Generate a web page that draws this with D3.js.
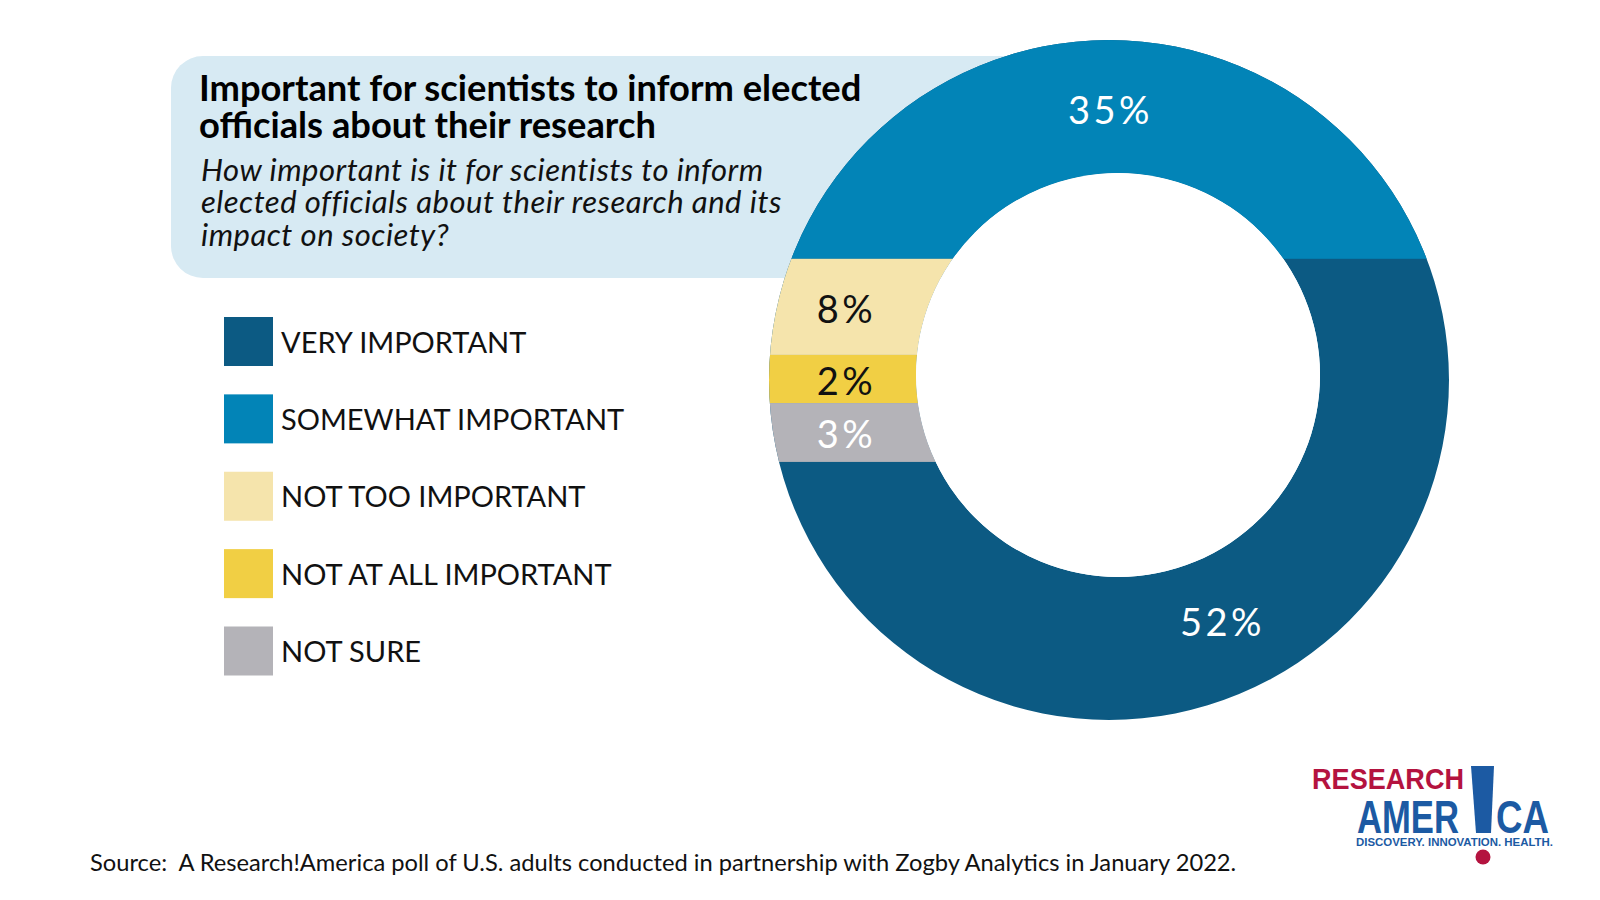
<!DOCTYPE html>
<html><head><meta charset="utf-8">
<script src="https://cdn.jsdelivr.net/npm/d3@7"></script>
<style>
body{margin:0;background:#fff}
svg{display:block}
</style>
</head><body>
<svg id="chart" width="1600" height="900"></svg>
<script>
// ---------- data ----------
const categories = ["VERY IMPORTANT", "SOMEWHAT IMPORTANT", "NOT TOO IMPORTANT", "NOT AT ALL IMPORTANT", "NOT SURE"];
const values = [52, 35, 8, 2, 3];
const colors = ["#0C5A83", "#0284B7", "#F5E4AC", "#F1CF44", "#B4B3B8"];
const labelColors = ["#ffffff", "#ffffff", "#111111", "#111111", "#ffffff"];
// clockwise order of the ring, starting with the top segment
const ringOrder = [1, 0, 4, 3, 2];
// left-hand stacked bands, top to bottom
const leftBands = [2, 3, 4];
const titleLines = ["Important for scientists to inform elected", "officials about their research"];
const subtitleLines = ["How important is it for scientists to inform", "elected officials about their research and its", "impact on society?"];
const sourceText = "Source:  A Research!America poll of U.S. adults conducted in partnership with Zogby Analytics in January 2022.";

// ---------- layout ----------
const svg = d3.select("#chart");
const outer = {cx: 1109, cy: 380, r: 340};
const inner = {cx: 1118, cy: 375, r: 202};
const rMid = (outer.r + inner.r) / 2;
const rLab = rMid - 4;
const mid = {cx: (outer.cx + inner.cx) / 2, cy: (outer.cy + inner.cy) / 2};

const items = categories.map((c, i) => ({i, cat: c, value: values[i], color: colors[i], lc: labelColors[i]}));

// panel behind the title
svg.append("rect")
  .attr("x", 171).attr("y", 56).attr("width", 940).attr("height", 222)
  .attr("rx", 32).attr("fill", "#D7EAF3");

const title = svg.append("text")
  .attr("font-family", "Lato").attr("font-weight", 700).attr("font-size", 36.3)
  .attr("fill", "#000");
title.selectAll("tspan").data(titleLines).join("tspan")
  .attr("x", 199).attr("y", (d, i) => 101 + i * 37).text(d => d);

const sub = svg.append("text")
  .attr("font-family", "Lato").attr("font-style", "italic").attr("font-size", 31)
  .attr("letter-spacing", 0.5).attr("fill", "#111");
sub.selectAll("tspan").data(subtitleLines).join("tspan")
  .attr("x", 201).attr("y", (d, i) => 180.5 + i * 32.5).text(d => d);

// ---------- ring ----------
const ringPath = d3.path();
ringPath.moveTo(outer.cx + outer.r, outer.cy);
ringPath.arc(outer.cx, outer.cy, outer.r, 0, 2 * Math.PI);
ringPath.closePath();
ringPath.moveTo(inner.cx + inner.r, inner.cy);
ringPath.arc(inner.cx, inner.cy, inner.r, 0, 2 * Math.PI);
ringPath.closePath();

const defs = svg.append("defs");
defs.append("clipPath").attr("id", "ringClip")
  .append("path").attr("d", ringPath.toString()).attr("clip-rule", "evenodd");

const pie = d3.pie().sort(null).value(d => d.value);
const topVal = items[ringOrder[0]].value;
pie.startAngle(-Math.PI * topVal / 100).endAngle(2 * Math.PI - Math.PI * topVal / 100);
const arcs = pie(ringOrder.map(k => items[k]));
const arcGen = d3.arc().innerRadius(rLab).outerRadius(rLab);

// horizontal cut under the top segment
const topCut = outer.cy - rLab * Math.cos(arcs[0].endAngle);
const h = d3.scaleSqrt().domain([0, 100]).range([0, outer.r]);
let acc = topCut;
const bands = leftBands.map(k => {
  const b = {item: items[k], y0: acc, y1: acc + h(items[k].value)};
  acc = b.y1;
  return b;
});

const ring = svg.append("g").attr("clip-path", "url(#ringClip)");
const x0 = outer.cx - outer.r - 2, x1 = outer.cx + outer.r + 2;
// base: the large remaining segment
ring.append("rect").attr("x", x0).attr("y", outer.cy - outer.r - 2)
  .attr("width", x1 - x0).attr("height", 2 * outer.r + 4)
  .attr("fill", items[ringOrder[1]].color);
// top segment
ring.append("rect").attr("x", x0).attr("y", outer.cy - outer.r - 2)
  .attr("width", x1 - x0).attr("height", topCut - (outer.cy - outer.r - 2))
  .attr("fill", items[ringOrder[0]].color);
// left bands
ring.selectAll("rect.band").data(bands).join("rect").attr("class", "band")
  .attr("x", x0).attr("y", d => d.y0)
  .attr("width", inner.cx - x0).attr("height", d => d.y1 - d.y0)
  .attr("fill", d => d.item.color);

// white hole
svg.append("circle").attr("cx", inner.cx).attr("cy", inner.cy).attr("r", inner.r).attr("fill", "#fff");

// ---------- labels ----------
const fmt = v => v + "%";
const lblFont = 38, capHalf = 0.72 * lblFont / 2;
const labels = svg.append("g").attr("font-family", "Lato").attr("font-size", lblFont)
  .attr("letter-spacing", 3.5).attr("text-anchor", "middle");
[arcs[0], arcs[1]].forEach(a => {
  const [dx, dy] = arcGen.centroid(a);
  labels.append("text")
    .attr("x", mid.cx + dx + (dx > 10 ? 3 : -3)).attr("y", mid.cy + dy + capHalf)
    .attr("fill", a.data.lc).text(fmt(a.data.value));
});
const leftX = ((outer.cx - outer.r) + (inner.cx - inner.r)) / 2 + 4;
labels.selectAll("text.band").data(bands).join("text").attr("class", "band")
  .attr("x", leftX).attr("y", d => (d.y0 + d.y1) / 2 + 2 + capHalf)
  .attr("fill", d => d.item.lc).text(d => fmt(d.item.value));

// ---------- legend ----------
const ly = d3.scalePoint().domain(categories).range([341.5, 651]);
const legend = svg.append("g").selectAll("g").data(items).join("g")
  .attr("transform", d => `translate(224,${ly(d.cat)})`);
legend.append("rect").attr("x", 0).attr("y", -24.5).attr("width", 49).attr("height", 49)
  .attr("fill", d => d.color);
legend.append("text").attr("x", 57).attr("y", 11)
  .attr("font-family", "Lato").attr("font-size", 29).attr("fill", "#111")
  .text(d => d.cat);

// ---------- source ----------
svg.append("text").attr("x", 90).attr("y", 871)
  .attr("font-family", "Lato").attr("font-size", 23.7).attr("fill", "#111")
  .style("white-space", "pre")
  .text(sourceText);

// ---------- logo ----------
const red = "#B4133F", blue = "#1C5AA3";
const logoText = svg.append("text")
  .attr("font-family", "Liberation Sans").attr("font-weight", 700);
logoText.append("tspan").attr("x", 1312).attr("y", 789).attr("font-size", 30)
  .attr("textLength", 152).attr("lengthAdjust", "spacingAndGlyphs")
  .attr("fill", red).text("RESEARCH");
logoText.append("tspan").attr("x", 1357).attr("y", 833).attr("font-size", 47)
  .attr("textLength", 102).attr("lengthAdjust", "spacingAndGlyphs")
  .attr("fill", blue).text("AMER");
logoText.append("tspan").attr("x", 1496).attr("y", 833).attr("font-size", 47)
  .attr("textLength", 53).attr("lengthAdjust", "spacingAndGlyphs")
  .attr("fill", blue).text("CA");
logoText.append("tspan").attr("x", 1356).attr("y", 845.5).attr("font-size", 11)
  .attr("textLength", 197).attr("lengthAdjust", "spacingAndGlyphs")
  .attr("fill", blue).text("DISCOVERY. INNOVATION. HEALTH.");
svg.append("path").attr("d", "M1471,766 L1494,766 L1491,833 L1476,833 Z").attr("fill", blue);
svg.append("circle").attr("cx", 1483).attr("cy", 857).attr("r", 7.5).attr("fill", red);
</script>
</body></html>
